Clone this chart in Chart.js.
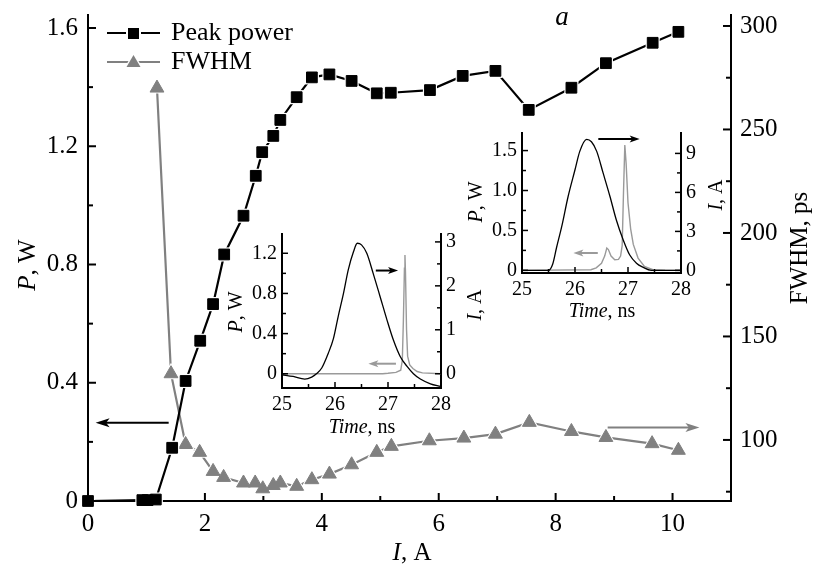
<!DOCTYPE html>
<html>
<head>
<meta charset="utf-8">
<script src="https://cdn.jsdelivr.net/npm/chart.js@4.4.0/dist/chart.umd.min.js"></script>
<style>
  html, body { margin: 0; padding: 0; background: #fff; }
  #wrap { position: relative; width: 817px; height: 565px; overflow: hidden; }
  canvas { position: absolute; }
</style>
</head>
<body>
<div id="wrap">
  <canvas id="main" width="817" height="565" style="left:0;top:0"></canvas>
  <canvas id="in1" width="265" height="220" style="left:225px;top:222px"></canvas>
  <canvas id="in2" width="270" height="205" style="left:465px;top:122px"></canvas>
</div>
<script>
// main plot: peak power and FWHM vs current
var currentA   = [0, 0.93, 1.02, 1.16, 1.44, 1.67, 1.92, 2.14, 2.33, 2.66, 2.87, 2.98, 3.17, 3.29, 3.57, 3.83, 4.13, 4.51, 4.94, 5.18, 5.85, 6.41, 6.97, 7.54, 8.27, 8.86, 9.66, 10.10];
var peakPowerW = [0, 0.003, 0.003, 0.005, 0.18, 0.406, 0.542, 0.666, 0.834, 0.965, 1.10, 1.18, 1.235, 1.289, 1.366, 1.433, 1.443, 1.421, 1.379, 1.381, 1.39, 1.438, 1.455, 1.323, 1.398, 1.481, 1.55, 1.587];
var fwhmCurrentA = [1.18, 1.42, 1.67, 1.91, 2.14, 2.32, 2.66, 2.86, 2.99, 3.17, 3.29, 3.57, 3.83, 4.13, 4.51, 4.94, 5.19, 5.84, 6.43, 6.97, 7.55, 8.27, 8.86, 9.65, 10.10];
var fwhmPs       = [270, 132, 97.8, 94, 84.8, 81.9, 79.2, 79.2, 76.4, 78, 79.2, 77.6, 80.8, 83.5, 88, 94, 96.9, 99.6, 100.9, 102.8, 108.5, 104.1, 101.2, 98.2, 95];

var mainXTicks = [0, 2, 4, 6, 8, 10];
var mainXMinor = [1, 3, 5, 7, 9];
var mainPTicks = [0, 0.4, 0.8, 1.2, 1.6];
var mainPMinor = [0.2, 0.6, 1.0, 1.4];
var mainFTicks = [100, 150, 200, 250, 300];
var mainFMinor = [75, 125, 175, 225, 275];

// inset 1 (lower): pulse at low current
var in1Time  = [25.0, 25.21, 25.43, 25.56, 25.65, 25.75, 25.87, 25.97, 26.06, 26.16, 26.25, 26.35, 26.42, 26.50, 26.60, 26.72, 26.85, 26.98, 27.10, 27.23, 27.36, 27.48, 27.61, 27.80, 27.99];
var in1Power = [-0.01, -0.027, -0.053, -0.033, 0, 0.057, 0.2, 0.35, 0.57, 0.80, 1.035, 1.217, 1.30, 1.284, 1.20, 1.00, 0.77, 0.537, 0.338, 0.172, 0.073, 0, -0.053, -0.1, -0.126];
var in1CurTime = [25.0, 26.9, 27.0, 27.15, 27.24, 27.27, 27.29, 27.31, 27.32, 27.33, 27.35, 27.37, 27.41, 27.47, 27.55, 27.65, 28.0];
var in1Current = [0, 0, 0.01, 0.03, 0.08, 0.3, 1.2, 2.4, 2.7, 2.3, 1.0, 0.4, 0.2, 0.12, 0.05, 0.02, 0];

// inset 2 (upper): pulse at high current
var in2Time  = [25.0, 25.5, 25.58, 25.65, 25.75, 25.87, 26.0, 26.09, 26.22, 26.31, 26.41, 26.53, 26.66, 26.78, 26.91, 27.03, 27.16, 27.28, 27.44, 28.0];
var in2Power = [0, 0, 0.08, 0.28, 0.55, 0.925, 1.26, 1.49, 1.64, 1.61, 1.49, 1.22, 0.925, 0.63, 0.38, 0.195, 0.09, 0.04, 0, 0];
var in2CurTime = [25.0, 26.3, 26.4, 26.5, 26.56, 26.6, 26.63, 26.68, 26.75, 26.82, 26.86, 26.89, 26.915, 26.94, 26.965, 27.0, 27.05, 27.1, 27.19, 27.31, 27.47, 27.7, 28.0];
var in2Current = [0, 0.05, 0.2, 0.55, 1.1, 1.72, 1.6, 1.1, 0.82, 0.85, 1.1, 1.9, 6.0, 9.65, 8.2, 5.2, 3.2, 2.0, 0.95, 0.3, 0.05, 0.01, 0];

var inTimeTicks = [25, 26, 27, 28];
var inTimeMinor = [25.5, 26.5, 27.5];
var in1PTicks = [0, 0.4, 0.8, 1.2];
var in1PMinor = [0.2, 0.6, 1.0];
var in1ITicks = [0, 1, 2, 3];
var in1IMinor = [0.5, 1.5, 2.5];
var in2PTicks = [0, 0.5, 1.0, 1.5];
var in2PMinor = [0.25, 0.75, 1.25];
var in2ITicks = [0, 3, 6, 9];
var in2IMinor = [1.5, 4.5, 7.5];

var SERIF = '"Liberation Serif", "DejaVu Serif", serif';
var GREY = '#808080';
var LIGHT = '#9a9a9a';

function pts(xs, ys) {
  return xs.map(function (x, i) { return { x: x, y: ys[i] }; });
}
function fixTicks(list) {
  return function (s) { s.ticks = list.map(function (v) { return { value: v }; }); };
}
function oneDec(v) { return v === 0 ? '0' : v.toFixed(1); }

function richText(ctx, parts, x, y, rot, size) {
  ctx.save();
  ctx.translate(x, y);
  ctx.rotate(rot);
  ctx.textBaseline = 'middle';
  ctx.fillStyle = '#000';
  var w = 0;
  parts.forEach(function (p) {
    ctx.font = (p[1] ? 'italic ' : '') + size + 'px ' + SERIF;
    w += ctx.measureText(p[0]).width;
  });
  var cx = -w / 2;
  parts.forEach(function (p) {
    ctx.font = (p[1] ? 'italic ' : '') + size + 'px ' + SERIF;
    ctx.textAlign = 'left';
    ctx.fillText(p[0], cx, 0);
    cx += ctx.measureText(p[0]).width;
  });
  ctx.restore();
}

function arrow(ctx, x0, y, x1, color, lw, head, half) {
  var dir = x1 > x0 ? 1 : -1;
  ctx.save();
  ctx.strokeStyle = color; ctx.fillStyle = color; ctx.lineWidth = lw;
  ctx.beginPath();
  ctx.moveTo(x0, y); ctx.lineTo(x1 - dir * head * 0.6, y);
  ctx.stroke();
  ctx.beginPath();
  ctx.moveTo(x1, y);
  ctx.lineTo(x1 - dir * head, y - half);
  ctx.lineTo(x1 - dir * head * 0.75, y);
  ctx.lineTo(x1 - dir * head, y + half);
  ctx.closePath();
  ctx.fill();
  ctx.restore();
}

function decor(cfg) {
  return {
    id: 'decor',
    afterDraw: function (chart) {
      var ctx = chart.ctx, a = chart.chartArea;
      ctx.save();
      ctx.strokeStyle = '#000';
      ctx.lineWidth = cfg.tickWidth;
      cfg.ticks.forEach(function (t) {
        var s = chart.scales[t.id];
        t.values.forEach(function (v) {
          var p = s.getPixelForValue(v);
          ctx.beginPath();
          if (s.axis === 'x') { ctx.moveTo(p, a.bottom); ctx.lineTo(p, a.bottom - t.len); }
          else if (s.position === 'left') { ctx.moveTo(a.left, p); ctx.lineTo(a.left + t.len, p); }
          else { ctx.moveTo(a.right, p); ctx.lineTo(a.right - t.len, p); }
          ctx.stroke();
        });
      });
      ctx.restore();
      cfg.arrows.forEach(function (r) {
        var xs = chart.scales.x, ys = chart.scales[r.axis];
        arrow(ctx, xs.getPixelForValue(r.from), ys.getPixelForValue(r.y), xs.getPixelForValue(r.to),
              r.color, cfg.arrowWidth, cfg.head, cfg.half);
      });
      cfg.texts.forEach(function (t) {
        richText(ctx, t.parts, a[t.ref[0]] + t.dx, a[t.ref[1]] + t.dy, t.rot || 0, t.size);
      });
      if (cfg.extra) cfg.extra(ctx, a);
    }
  };
}

function scaleBase(size, pad, ticks, fmt, fitKey, fitVal) {
  return {
    type: 'linear',
    grid: { display: false, drawTicks: false },
    border: { display: true, color: '#000', width: 2 },
    ticks: { color: '#000', font: { family: SERIF, size: size }, padding: pad, maxRotation: 0, autoSkip: false,
             callback: fmt || function (v) { return String(v); } },
    afterBuildTicks: fixTicks(ticks),
    afterFit: function (s) {
      s[fitKey] = fitVal;
      s.paddingTop = 0; s.paddingBottom = 0; s.paddingLeft = 0; s.paddingRight = 0;
    }
  };
}

// ---------- main chart ----------
var mx = scaleBase(25, 8, mainXTicks, null, 'height', 64);
mx.min = 0; mx.max = 11;
var my = scaleBase(25, 10, mainPTicks, oneDec, 'width', 88);
my.position = 'left'; my.min = 0; my.max = 1.644;
var my1 = scaleBase(25, 9, mainFTicks, null, 'width', 86);
my1.position = 'right'; my1.min = 70.5; my1.max = 305.3;

var peakPts = pts(currentA, peakPowerW);
var fwhmPts = pts(fwhmCurrentA, fwhmPs);

new Chart(document.getElementById('main'), {
  type: 'line',
  data: {
    datasets: [
      // markers on top
      { label: 'Peak power', data: peakPts, yAxisID: 'y', order: 1, showLine: false, clip: false,
        pointStyle: 'rect', pointRadius: 7.6, pointBackgroundColor: '#000',
        pointBorderColor: '#000', pointBorderWidth: 1 },
      // line with white halos that open gaps around the markers
      { label: 'Peak power line', data: peakPts, yAxisID: 'y', order: 2, clip: false,
        borderColor: '#000', borderWidth: 2.2, tension: 0,
        pointStyle: 'rect', pointRadius: 10, pointBackgroundColor: '#fff', pointBorderWidth: 0 },
      { label: 'FWHM', data: fwhmPts, yAxisID: 'y1', order: 3, showLine: false, clip: false,
        pointStyle: 'triangle', pointRadius: 8, pointBackgroundColor: GREY,
        pointBorderColor: GREY, pointBorderWidth: 1 },
      { label: 'FWHM line', data: fwhmPts, yAxisID: 'y1', order: 4, clip: false,
        borderColor: GREY, borderWidth: 2.2, tension: 0,
        pointStyle: 'triangle', pointRadius: 11, pointBackgroundColor: '#fff', pointBorderWidth: 0 }
    ]
  },
  options: {
    responsive: false, animation: false, devicePixelRatio: 1,
    layout: { padding: { top: 15, left: 0, right: 0, bottom: 0 } },
    plugins: { legend: { display: false }, tooltip: { enabled: false } },
    scales: { x: mx, y: my, y1: my1 }
  },
  plugins: [decor({
    tickWidth: 2, arrowWidth: 2, head: 14, half: 4.5,
    ticks: [
      { id: 'x', values: mainXTicks, len: 8 }, { id: 'x', values: mainXMinor, len: 5 },
      { id: 'y', values: mainPTicks, len: 8 }, { id: 'y', values: mainPMinor, len: 5 },
      { id: 'y1', values: mainFTicks, len: 8 }, { id: 'y1', values: mainFMinor, len: 5 }
    ],
    arrows: [
      { axis: 'y', y: 0.265, from: 1.38, to: 0.13, color: '#000' },
      { axis: 'y1', y: 106, from: 8.89, to: 10.46, color: GREY }
    ],
    texts: [
      { parts: [['P', true], [', W', false]], ref: ['left', 'top'], dx: -60, dy: 250, rot: -Math.PI / 2, size: 25 },
      { parts: [['I', true], [', A', false]], ref: ['left', 'bottom'], dx: 324, dy: 52, size: 25 },
      { parts: [['FWHM, ps', false]], ref: ['right', 'top'], dx: 69, dy: 233, rot: -Math.PI / 2, size: 25 },
      { parts: [['a', true]], ref: ['left', 'top'], dx: 474, dy: 3, size: 27 }
    ],
    extra: function (ctx) {
      // legend
      ctx.save();
      ctx.lineWidth = 2.2;
      ctx.strokeStyle = '#000';
      ctx.beginPath(); ctx.moveTo(107, 33); ctx.lineTo(160, 33); ctx.stroke();
      ctx.fillStyle = '#fff';
      ctx.fillRect(126, 26, 15, 15);
      ctx.fillStyle = '#000';
      ctx.fillRect(128, 28, 11, 11);
      ctx.strokeStyle = GREY;
      ctx.beginPath(); ctx.moveTo(107, 62); ctx.lineTo(160, 62); ctx.stroke();
      ctx.fillStyle = '#fff';
      ctx.beginPath(); ctx.moveTo(133.5, 52); ctx.lineTo(143, 69); ctx.lineTo(124, 69); ctx.closePath(); ctx.fill();
      ctx.fillStyle = GREY;
      ctx.beginPath(); ctx.moveTo(133.5, 55); ctx.lineTo(140.5, 67); ctx.lineTo(126.5, 67); ctx.closePath(); ctx.fill();
      ctx.fillStyle = '#000';
      ctx.font = '26px ' + SERIF;
      ctx.textAlign = 'left'; ctx.textBaseline = 'middle';
      ctx.fillText('Peak power', 171, 33);
      ctx.fillText('FWHM', 171, 62);
      ctx.restore();
    }
  })]
});

// ---------- insets ----------
function inset(id, d, fit) {
  var x = scaleBase(20, 5, inTimeTicks, null, 'height', fit.bottom);
  x.min = 25; x.max = 28;
  var y = scaleBase(20, 5, d.pTicks, oneDec, 'width', fit.left);
  y.position = 'left'; y.min = d.pMin; y.max = d.pMax;
  var y1 = scaleBase(20, 5, d.iTicks, null, 'width', fit.right);
  y1.position = 'right'; y1.min = d.iMin; y1.max = d.iMax;
  new Chart(document.getElementById(id), {
    type: 'line',
    data: {
      datasets: [
        { data: pts(d.t, d.p), yAxisID: 'y', borderColor: '#000', borderWidth: 1.3,
          pointRadius: 0, cubicInterpolationMode: 'monotone' },
        { data: pts(d.ct, d.c), yAxisID: 'y1', borderColor: LIGHT, borderWidth: 1.4,
          pointRadius: 0, tension: 0 }
      ]
    },
    options: {
      responsive: false, animation: false, devicePixelRatio: 1,
      layout: { padding: { top: fit.top, left: 0, right: 0, bottom: 0 } },
      plugins: { legend: { display: false }, tooltip: { enabled: false } },
      scales: { x: x, y: y, y1: y1 }
    },
    plugins: [decor({
      tickWidth: 1.5, arrowWidth: 2, head: 10, half: 3.5,
      ticks: [
        { id: 'x', values: inTimeTicks, len: 6 }, { id: 'x', values: inTimeMinor, len: 4 },
        { id: 'y', values: d.pTicks, len: 6 }, { id: 'y', values: d.pMinor, len: 4 },
        { id: 'y1', values: d.iTicks, len: 6 }, { id: 'y1', values: d.iMinor, len: 4 }
      ],
      arrows: d.arrows,
      texts: [
        { parts: [['P', true], [', W', false]], ref: ['left', 'top'], dx: d.pTitleDx, dy: d.titleDy, rot: -Math.PI / 2, size: 20 },
        { parts: [['I', true], [', A', false]], ref: ['right', 'top'], dx: d.iTitleDx, dy: d.titleDy2, rot: -Math.PI / 2, size: 20 },
        { parts: [['Time', true], [', ns', false]], ref: ['left', 'bottom'], dx: 80, dy: d.timeDy, size: 20 }
      ]
    })]
  });
}

inset('in1', {
  t: in1Time, p: in1Power, ct: in1CurTime, c: in1Current,
  pTicks: in1PTicks, pMinor: in1PMinor, iTicks: in1ITicks, iMinor: in1IMinor,
  pMin: -0.142, pMax: 1.392, iMin: -0.325, iMax: 3.18,
  arrows: [
    { axis: 'y', y: 1.028, from: 26.77, to: 27.19, color: '#000' },
    { axis: 'y', y: 0.1, from: 27.15, to: 26.63, color: LIGHT }
  ],
  pTitleDx: -45, iTitleDx: 35, titleDy: 78, titleDy2: 71, timeDy: 40
}, { left: 57, right: 49, top: 12, bottom: 54 });

inset('in2', {
  t: in2Time, p: in2Power, ct: in2CurTime, c: in2Current,
  pTicks: in2PTicks, pMinor: in2PMinor, iTicks: in2ITicks, iMinor: in2IMinor,
  pMin: -0.033, pMax: 1.72, iMin: -0.2, iMax: 10.57,
  arrows: [
    { axis: 'y', y: 1.646, from: 26.44, to: 27.22, color: '#000' },
    { axis: 'y', y: 0.2175, from: 26.43, to: 25.97, color: LIGHT }
  ],
  pTitleDx: -45, iTitleDx: 36, titleDy: 69, titleDy2: 62, timeDy: 39
}, { left: 57, right: 54, top: 11, bottom: 54 });
</script>
</body>
</html>
